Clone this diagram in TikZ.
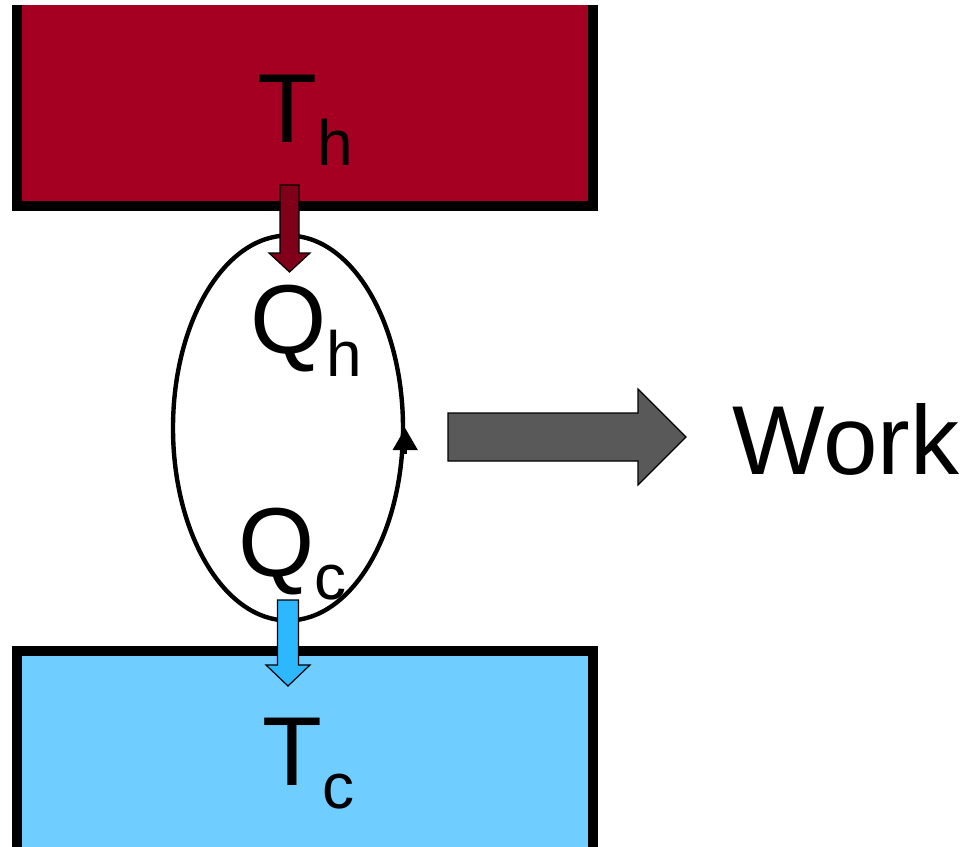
\documentclass[tikz,border=0pt]{standalone}
\usepackage{fontspec}
\setmainfont{Liberation Sans}
\usetikzlibrary{arrows.meta, calc, shapes.geometric}

\definecolor{hotres}{RGB}{165,0,33}
\definecolor{hotflow}{RGB}{128,0,26}
\definecolor{coldres}{RGB}{112,205,255}
\definecolor{coldflow}{RGB}{45,183,255}
\definecolor{workflow}{RGB}{89,89,89}

\newcommand{\bigfont}{\fontsize{49}{58}\selectfont}
\newcommand{\lowsub}[1]{\raisebox{-11.5pt}{\fontsize{32}{38}\selectfont #1}}
% tail, tip, shaft half width, head half width, head length, fill
\newcommand{\blockarrow}[6]{%
  \path ($(#2)!#5!(#1)$) coordinate (headbase);
  \draw[fatarrow, fill=#6] ($(#1)!#3!90:(#2)$) -- ($(headbase)!#3!90:(#2)$)
    -- ($(headbase)!#4!90:(#2)$) -- (#2) -- ($(headbase)!#4!-90:(#2)$)
    -- ($(headbase)!#3!-90:(#2)$) -- ($(#1)!#3!-90:(#2)$) -- cycle;}

\begin{document}
\begin{tikzpicture}[x=0.5pt, y=-0.5pt,
    wall/.style={line width=5pt, line join=miter},
    label/.style={anchor=base west, inner sep=0pt, font=\bigfont},
    fatarrow/.style={draw=black, line width=0.6pt, line join=miter}]
    % Canvas
    \useasboundingbox (0,0) rectangle (965,847);

    % Hot reservoir
    \fill[hotres] (16.5,5) rectangle (593,205.5);
    \draw[wall] (16.5,5) -- (16.5,205.5) -- (593,205.5) -- (593,5);
    \node[label] (th) at (257,142) {T\lowsub{h}};

    % Cold reservoir
    \fill[coldres] (17,650.5) rectangle (593,847);
    \draw[wall] (17,847) -- (17,650.5) -- (593,650.5) -- (593,847);
    \node[label] (tc) at (262,785) {T\lowsub{c}};

    % Engine cycle
    \node[draw, ellipse, line width=2.2pt, minimum width=115pt, minimum height=192.5pt,
          inner sep=0pt] (engine) at (288,428) {};
    \draw[line width=2.2pt, -{Triangle[width=12pt, length=11pt]}]
        ([yshift=-13pt]engine.east) -- (engine.east);
    \node[label] (qh) at (250,353) {Q\lowsub{h}};
    \node[label] (qc) at (238,576) {Q\lowsub{c}};

    % Heat in and heat out
    \coordinate (qh-tail) at (289.5,185);
    \coordinate (qh-tip) at (289.5,272);
    \blockarrow{qh-tail}{qh-tip}{4.75pt}{10.25pt}{9.5pt}{hotflow}
    \coordinate (qc-tail) at (288,600);
    \coordinate (qc-tip) at (288,686);
    \blockarrow{qc-tail}{qc-tip}{5.25pt}{11pt}{10.5pt}{coldflow}

    % Work out
    \coordinate (work-tail) at (448,437);
    \coordinate (work-tip) at (686,437);
    \blockarrow{work-tail}{work-tip}{12pt}{24pt}{24pt}{workflow}
    \node[label] (work) at (732,474) {Work};
\end{tikzpicture}
\end{document}
